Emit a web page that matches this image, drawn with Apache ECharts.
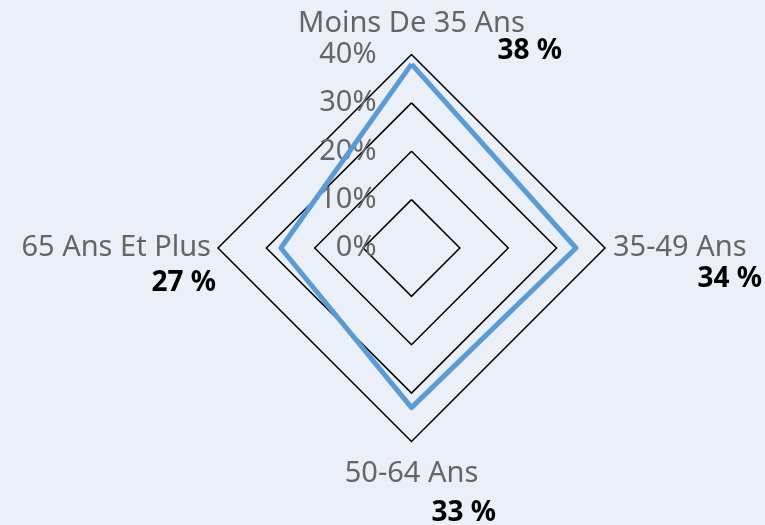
<!DOCTYPE html>
<html>
<head>
<meta charset="utf-8">
<script src="https://cdn.jsdelivr.net/npm/echarts@6/dist/echarts.min.js"></script>
<style>
  html, body { margin: 0; padding: 0; background: #ebeff8; }
  #chart { width: 765px; height: 525px; }
</style>
</head>
<body>
<div id="chart"></div>
<script>
// categories, clockwise from the top
var categories = ['Moins De 35 Ans', '35-49 Ans', '50-64 Ans', '65 Ans Et Plus']
var values = [38, 34, 33, 27]
var tickLabels = ['0%', '10%', '20%', '30%', '40%']

// echarts puts indicators counter-clockwise, so reorder
var drawOrder = [0, 3, 2, 1]

var font = 'Noto Sans'

var chart = echarts.init(document.getElementById('chart'))
chart.setOption({
  backgroundColor: '#ebeff8',
  radar: {
    center: [411.5, 248],
    radius: 193.5,
    shape: 'polygon',
    splitNumber: 4,
    axisNameGap: -11,
    axisLine: { show: false },
    axisTick: { show: false },
    axisLabel: { show: false },
    splitArea: { show: false },
    splitLine: { lineStyle: { color: '#000', width: 1.5 } },
    axisName: {
      fontFamily: font,
      formatter: function (name) {
        var i = categories.indexOf(name)
        var pre = i > 0 ? '{b' + i + '| }\n' : ''
        return pre + '{n' + i + '|' + name + '}\n{v' + i + '|' + values[i] + ' %}'
      },
      rich: {
        n0: { fontFamily: font, fontSize: 29, color: '#666', lineHeight: 28 },
        n1: { fontFamily: font, fontSize: 29, color: '#666', lineHeight: 28, padding: [0, 0, 0, 19] },
        n2: { fontFamily: font, fontSize: 29, color: '#666', lineHeight: 28 },
        n3: { fontFamily: font, fontSize: 29, color: '#666', lineHeight: 28, padding: [0, 18, 0, 0] },
        v0: { fontFamily: font, fontSize: 28, fontWeight: 'bold', color: '#000', lineHeight: 28, align: 'right', width: 301 },
        v1: { fontFamily: font, fontSize: 28, fontWeight: 'bold', color: '#000', lineHeight: 34, align: 'right', width: 168 },
        v2: { fontFamily: font, fontSize: 28, fontWeight: 'bold', color: '#000', lineHeight: 52, align: 'right', width: 169 },
        v3: { fontFamily: font, fontSize: 28, fontWeight: 'bold', color: '#000', lineHeight: 42, align: 'right', padding: [0, 13, 0, 0] },
        b1: { fontSize: 10, lineHeight: 34 },
        b2: { fontSize: 10, lineHeight: 29 },
        b3: { fontSize: 10, lineHeight: 42 }
      }
    },
    indicator: drawOrder.map(function (i, k) {
      var ind = { name: categories[i], min: 0, max: 40 }
      if (k === 0) {
        ind.nameMoveOverlap = false
        ind.axisLabel = {
          show: true,
          fontFamily: font,
          fontSize: 29,
          color: '#666',
          margin: 35,
          formatter: function (v) { return tickLabels[Math.round(v / 10)] }
        }
      }
      return ind
    })
  },
  series: [
    {
      type: 'radar',
      symbol: 'none',
      lineStyle: { color: '#5b9bd5', width: 5 },
      data: [{ value: drawOrder.map(function (i) { return values[i] }) }]
    }
  ]
})
</script>
</body>
</html>
